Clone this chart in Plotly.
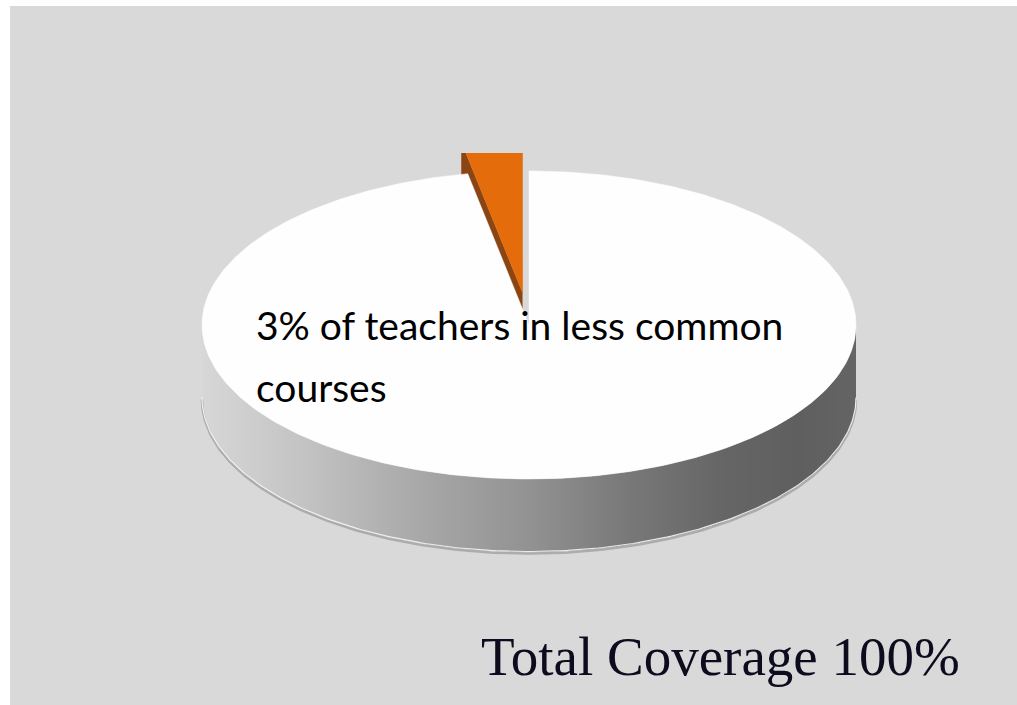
import numpy as np
import plotly.graph_objects as go

W, H = 1017, 705

# Pie data
slice_labels = ["Common courses", "Less common courses"]
slice_values = [97, 3]
slice_colors = ["#fefefe", "#e46c0a"]
slice_face_colors = [None, "#8a4512"]
slice_explode = [0.0, 0.21]

label_lines = ["3% of teachers in less common", "courses"]
footer_text = "Total Coverage 100%"

# Disc geometry in pixel units (x right, y down)
CX, CY = 529, 325
RX, RY = 327, 154
DEPTH = 73
PLOT_TOP = 153

# Side wall shading: x position -> grey level
shade_x = [CX - RX, 300, 430, 530, 630, 720, 800, CX + RX]
shade_v = [215, 196, 166, 146, 120, 102, 95, 100]


def rim(phi):
    """Point on the top rim; phi = 0 at the back, growing clockwise."""
    return CX + RX * np.sin(phi), CY - RY * np.cos(phi)


fig = go.Figure()

# --- side wall, drawn as thin vertical strips to get a horizontal gradient
step = 3.0
xs = np.arange(CX - RX, CX + RX, step)
for x0 in xs:
    x1 = min(x0 + step + 0.8, CX + RX)
    u = np.linspace(x0, x1, 4)
    yt = CY + RY * np.sqrt(np.clip(1 - ((u - CX) / RX) ** 2, 0, 1))
    yb = yt + DEPTH
    g = int(round(np.interp((x0 + x1) / 2, shade_x, shade_v)))
    col = f"rgb({g},{g},{g})"
    fig.add_trace(go.Scatter(
        x=np.concatenate([u, u[::-1]]), y=np.concatenate([yt, yb[::-1]]),
        mode="lines", fill="toself", fillcolor=col,
        line=dict(width=0, color=col), hoverinfo="skip", showlegend=False))

# lower outline of the disc: soft shadow and a light rim highlight
t = np.linspace(np.pi / 2, 3 * np.pi / 2, 200)
bx, by = rim(t)
fig.add_trace(go.Scatter(x=bx, y=by + DEPTH + 1.5, mode="lines",
                         line=dict(color="rgba(90,90,90,0.35)", width=2.5),
                         hoverinfo="skip", showlegend=False))
fig.add_trace(go.Scatter(x=bx, y=by + DEPTH - 0.5, mode="lines",
                         line=dict(color="rgba(245,245,245,0.9)", width=1.2),
                         hoverinfo="skip", showlegend=False))

# --- slice geometry from the values
total = float(sum(slice_values))
bounds = np.concatenate([[0.0], np.cumsum(slice_values) / total * 2 * np.pi])
wedges = []
for i, v in enumerate(slice_values):
    a0, a1 = bounds[i], bounds[i + 1]
    mid = (a0 + a1) / 2
    dx = slice_explode[i] * RX * np.sin(mid)
    dy = -slice_explode[i] * RY * np.cos(mid)
    wedges.append((a0, a1, dx, dy))

# radial side face of the exploded slice (mostly hidden by the big slice)
for i, (a0, a1, dx, dy) in enumerate(wedges):
    if slice_face_colors[i] is None:
        continue
    ex, ey = rim(a0)
    fx = [CX + dx, ex + dx, ex + dx, CX + dx]
    fy = [CY + dy, ey + dy, ey + dy + DEPTH, CY + dy + DEPTH]
    fig.add_trace(go.Scatter(x=fx, y=fy, mode="lines", fill="toself",
                             fillcolor=slice_face_colors[i],
                             line=dict(width=0, color=slice_face_colors[i]),
                             hoverinfo="skip", showlegend=False))

# top faces of the slices
for i, (a0, a1, dx, dy) in enumerate(wedges):
    n = max(8, int((a1 - a0) / (2 * np.pi) * 400))
    arc = np.linspace(a0, a1, n)
    ax_, ay_ = rim(arc)
    px = np.concatenate([[CX], ax_, [CX]]) + dx
    py = np.concatenate([[CY], ay_, [CY]]) + dy
    fig.add_trace(go.Scatter(x=px, y=py, mode="lines", fill="toself",
                             fillcolor=slice_colors[i],
                             line=dict(width=0.5, color=slice_colors[i]),
                             name=slice_labels[i], hoverinfo="skip",
                             showlegend=False))

# text
TEXT_X = 254
LABEL_SIZE = 39
fig.add_annotation(x=TEXT_X, y=340 - 0.387 * LABEL_SIZE, xref="x", yref="y",
                   text=label_lines[0], showarrow=False, xanchor="left",
                   yanchor="middle",
                   font=dict(family="Lato", size=LABEL_SIZE, color="#000000"))
fig.add_annotation(x=TEXT_X, y=402 - 0.387 * LABEL_SIZE, xref="x", yref="y",
                   text=label_lines[1], showarrow=False, xanchor="left",
                   yanchor="middle",
                   font=dict(family="Lato", size=LABEL_SIZE, color="#000000"))
FOOT_SIZE = 55
fig.add_annotation(x=479, y=675 - 0.3375 * FOOT_SIZE, xref="x", yref="y",
                   text=footer_text, showarrow=False, xanchor="left",
                   yanchor="middle",
                   font=dict(family="Liberation Serif", size=FOOT_SIZE,
                             color="#0c0c1e"))

fig.update_layout(
    width=W, height=H,
    margin=dict(l=0, r=0, t=0, b=0),
    paper_bgcolor="#ffffff",
    plot_bgcolor="rgba(0,0,0,0)",
    showlegend=False,
    hovermode=False,
    xaxis=dict(range=[0, W], visible=False, fixedrange=True),
    yaxis=dict(range=[H, PLOT_TOP], visible=False, fixedrange=True,
               domain=[0, (H - PLOT_TOP) / H]),
    shapes=[dict(type="rect", xref="paper", yref="paper",
                 x0=10 / W, x1=1, y0=0, y1=1 - 6 / H,
                 fillcolor="#d9d9d9", line=dict(width=0), layer="below")],
)

fig.write_html("out.html", config={"displayModeBar": False})
